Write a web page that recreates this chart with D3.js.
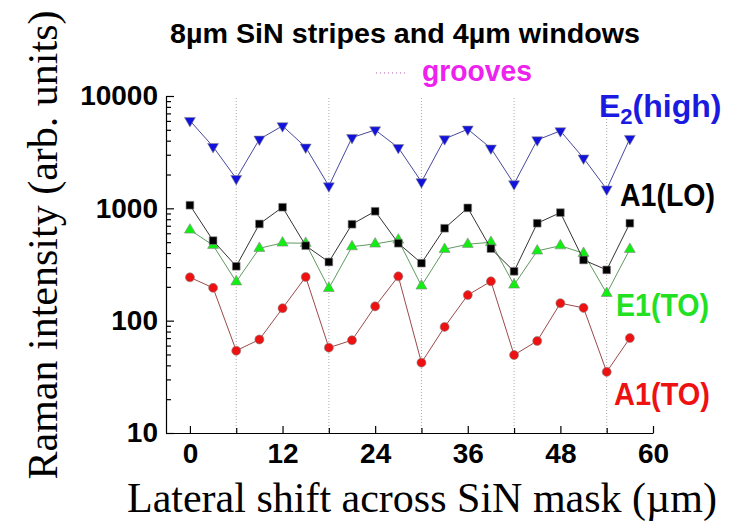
<!DOCTYPE html>
<html>
<head>
<meta charset="UTF-8">
<style>
  body { margin: 0; background: #fff; }
  svg text { font-family: "Liberation Sans", Arial, sans-serif; }
  svg text.serif { font-family: "Liberation Serif", "Times New Roman", serif; }
</style>
</head>
<body>
<svg width="729" height="524"></svg>
<script src="https://cdnjs.cloudflare.com/ajax/libs/d3/7.8.5/d3.min.js"></script>
<script>
// lateral positions (µm)
const shift = [0, 3, 6, 9, 12, 15, 18, 21, 24, 27, 30, 33, 36, 39, 42, 45, 48, 51, 54, 57];
// groove positions
const grooves = [6, 18, 30, 42, 54];
// Raman intensities
const e2high = [6040, 3540, 1840, 4120, 5420, 3500, 1580, 4260, 4990, 3470, 1720, 4150, 5060, 3430, 1650, 4060, 4890, 2800, 1480, 4180];
const a1lo = [1066, 516, 305, 726, 1023, 465, 333, 722, 942, 489, 325, 665, 1009, 438, 275, 737, 916, 347, 283, 737];
const e1to = [642, 469, 222, 441, 492, 489, 194, 456, 482, 523, 204, 432, 479, 499, 208, 418, 465, 398, 175, 432];
const a1to = [243, 196, 54, 68, 129, 245, 57.5, 67, 134, 248, 42.3, 88, 169, 224, 49.5, 66, 143, 130, 35, 70];
const xTicks = [0, 12, 24, 36, 48, 60];
const xMinor = [6, 18, 30, 42, 54];
const yTicks = [10, 100, 1000, 10000];

const svg = d3.select("svg");

const x = d3.scaleLinear().domain([-3.1, 60]).range([166, 653]);
const y = d3.scaleLog().domain([10, 10000]).range([433, 96]);

// minor log ticks
let yMinor = [];
[10, 100, 1000].forEach(d => {
    for (let k = 2; k <= 9; k++) yMinor.push(d * k);
});

// groove lines
svg.append("g").selectAll("line")
    .data(grooves)
    .enter().append("line")
    .attr("x1", d => x(d)).attr("x2", d => x(d))
    .attr("y1", y(10000) + 2).attr("y2", y(10))
    .attr("stroke", "#aaa").attr("stroke-width", 1)
    .attr("stroke-dasharray", "1,2");

// axes
let yAxis = svg.append("g").attr("transform", "translate(166,0)")
    .call(d3.axisLeft(y).tickValues(yTicks).tickSize(-8).tickSizeOuter(0).tickPadding(8)
        .tickFormat(d3.format("d")));
yAxis.selectAll("text").attr("font-size", 28).attr("font-weight", "bold").attr("fill", "#000");
svg.append("g").attr("transform", "translate(166,0)")
    .call(d3.axisLeft(y).tickValues(yMinor).tickSize(-5).tickFormat(""))
    .select(".domain").remove();

let xAxis = svg.append("g").attr("transform", "translate(0,433)")
    .call(d3.axisBottom(x).tickValues(xTicks).tickSize(-7).tickSizeOuter(0).tickPadding(10));
xAxis.selectAll("text").attr("font-size", 28).attr("font-weight", "bold").attr("fill", "#000");
svg.append("g").attr("transform", "translate(0,433)")
    .call(d3.axisBottom(x).tickValues(xMinor).tickSize(-5).tickFormat(""))
    .select(".domain").remove();
svg.selectAll(".domain, .tick line").attr("stroke-width", 1.2);

// series
const series = [
    { name: "A1TO", values: a1to, line: "#9a4a4a", fill: "#ee1111", sym: d3.symbolCircle, size: 64, rot: 0 },
    { name: "E1TO", values: e1to, line: "#5f9a5f", fill: "#11ee11", sym: d3.symbolTriangle, size: 52, rot: 0 },
    { name: "A1LO", values: a1lo, line: "#333", fill: "#000", sym: d3.symbolSquare, size: 60, rot: 0 },
    { name: "E2", values: e2high, line: "#4848a0", fill: "#1212dd", sym: d3.symbolTriangle, size: 52, rot: 180 }
];

const line = d3.line().x(d => x(d[0])).y(d => y(d[1]));

series.forEach(s => {
    let pts = shift.map((d, i) => [d, s.values[i]]);
    svg.append("path")
        .datum(pts)
        .attr("d", line)
        .attr("fill", "none")
        .attr("stroke", s.line)
        .attr("stroke-width", 1);
    svg.append("g").selectAll("path")
        .data(pts)
        .enter().append("path")
        .attr("d", d3.symbol().type(s.sym).size(s.size))
        .attr("transform", d => "translate(" + x(d[0]) + "," + y(d[1]) + ") rotate(" + s.rot + ")")
        .attr("fill", s.fill)
        .attr("stroke", "#888")
        .attr("stroke-width", 0.6);
});

// title + legend
svg.append("text").attr("x", 170).attr("y", 43)
    .attr("font-size", 27).attr("font-weight", "bold")
    .attr("textLength", 470).attr("lengthAdjust", "spacingAndGlyphs")
    .text("8µm SiN stripes and 4µm windows");
svg.append("line").attr("x1", 376).attr("x2", 408).attr("y1", 73).attr("y2", 73)
    .attr("stroke", "#b060b0").attr("stroke-width", 1.2).attr("stroke-dasharray", "1,3");
svg.append("text").attr("x", 422).attr("y", 81)
    .attr("font-size", 30).attr("font-weight", "bold").attr("fill", "#ee22ee")
    .attr("textLength", 110).attr("lengthAdjust", "spacingAndGlyphs")
    .text("grooves");

// series labels
let e2lab = svg.append("text").attr("x", 599).attr("y", 117)
    .attr("font-size", 32).attr("font-weight", "bold").attr("fill", "#1a1ae0");
e2lab.append("tspan").text("E");
e2lab.append("tspan").attr("font-size", 22).attr("dy", 7).text("2");
e2lab.append("tspan").attr("dy", -7).text("(high)");

svg.append("text").attr("x", 620).attr("y", 206)
    .attr("font-size", 32).attr("font-weight", "bold").attr("fill", "#000")
    .attr("textLength", 95).attr("lengthAdjust", "spacingAndGlyphs").text("A1(LO)");
svg.append("text").attr("x", 616).attr("y", 316)
    .attr("font-size", 32).attr("font-weight", "bold").attr("fill", "#22e022")
    .attr("textLength", 93).attr("lengthAdjust", "spacingAndGlyphs").text("E1(TO)");
svg.append("text").attr("x", 614).attr("y", 405)
    .attr("font-size", 32).attr("font-weight", "bold").attr("fill", "#ee1111")
    .attr("textLength", 96).attr("lengthAdjust", "spacingAndGlyphs").text("A1(TO)");

// axis titles
svg.append("text")
    .attr("class", "serif")
    .attr("transform", "translate(57,245) rotate(-90)")
    .attr("text-anchor", "middle")
    .attr("font-size", 42)
    .text("Raman intensity (arb. units)");
svg.append("text")
    .attr("class", "serif")
    .attr("x", 127).attr("y", 512)
    .attr("font-size", 42)
    .text("Lateral shift across SiN mask (µm)");
</script>
</body>
</html>
